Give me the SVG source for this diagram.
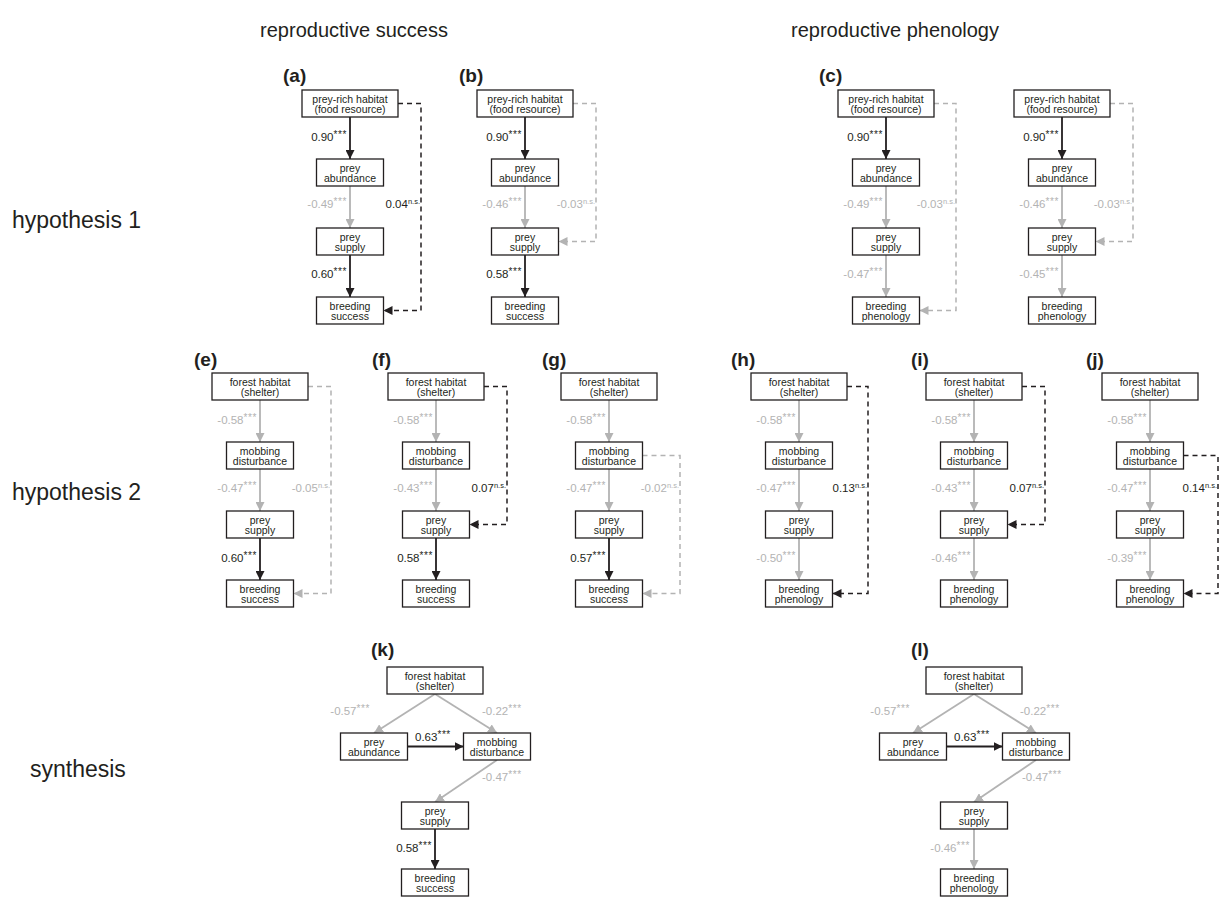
<svg xmlns="http://www.w3.org/2000/svg" width="1226" height="898" viewBox="0 0 1226 898">
<style>
text{font-family:"Liberation Sans",Arial,sans-serif}
.box{fill:#fff;stroke:#231f20;stroke-width:1.3}
.nt{font-size:10.5px;fill:#231f20;text-anchor:middle}
.lb{font-size:11.5px}
.k{fill:#231f20}
.g{fill:#b3b3b3}
.e{text-anchor:end}
.st{font-size:10px;letter-spacing:0.6px}
.ns{font-size:7.5px}
.ab{stroke:#231f20;stroke-width:1.8;fill:none;marker-end:url(#mb)}
.ag{stroke:#b3b3b3;stroke-width:1.8;fill:none;marker-end:url(#mg)}
.db{stroke:#231f20;stroke-width:1.5;stroke-dasharray:5 4;fill:none;marker-end:url(#mb)}
.dg{stroke:#b3b3b3;stroke-width:1.5;stroke-dasharray:5 4;fill:none;marker-end:url(#mg)}
.hd{font-size:20px;fill:#231f20}
.rl{font-size:23px;fill:#231f20}
.pl{font-size:19px;font-weight:bold;fill:#231f20}
</style>
<defs>
<marker id="mb" viewBox="0 0 10 10" refX="10" refY="5" markerWidth="9" markerHeight="9" markerUnits="userSpaceOnUse" orient="auto"><path d="M0,0 L10,5 L0,10 z" fill="#231f20"/></marker>
<marker id="mg" viewBox="0 0 10 10" refX="10" refY="5" markerWidth="9" markerHeight="9" markerUnits="userSpaceOnUse" orient="auto"><path d="M0,0 L10,5 L0,10 z" fill="#b3b3b3"/></marker>
</defs>

<g id="headers">
<text class="hd" x="354" y="37" text-anchor="middle">reproductive success</text>
<text class="hd" x="895" y="37" text-anchor="middle">reproductive phenology</text>
<text class="rl" x="12" y="228">hypothesis 1</text>
<text class="rl" x="12" y="500">hypothesis 2</text>
<text class="rl" x="30" y="777" font-size="22">synthesis</text>
</g>

<g id="panel-labels">
<text class="pl" x="283" y="82">(a)</text>
<text class="pl" x="459" y="82">(b)</text>
<text class="pl" x="819" y="82">(c)</text>
<text class="pl" x="194" y="366">(e)</text>
<text class="pl" x="372" y="366">(f)</text>
<text class="pl" x="542" y="366">(g)</text>
<text class="pl" x="731" y="366">(h)</text>
<text class="pl" x="911" y="366">(i)</text>
<text class="pl" x="1086" y="366">(j)</text>
<text class="pl" x="371" y="656">(k)</text>
<text class="pl" x="911" y="656">(l)</text>
</g>

<g id="connectors">
<path class="ab" d="M350,117 V159"/><path class="ag" d="M350,186 V228"/><path class="ab" d="M350,255 V297"/>
<path class="db" d="M398,103.5 H421 V310.5 H383.5"/>
<path class="ab" d="M525,117 V159"/><path class="ag" d="M525,186 V228"/><path class="ab" d="M525,255 V297"/>
<path class="dg" d="M573,103.5 H596 V241.5 H558.5"/>
<path class="ab" d="M886,117 V159"/><path class="ag" d="M886,186 V228"/><path class="ag" d="M886,255 V297"/>
<path class="dg" d="M934,103.5 H956 V310.5 H919.5"/>
<path class="ab" d="M1062,117 V159"/><path class="ag" d="M1062,186 V228"/><path class="ag" d="M1062,255 V297"/>
<path class="dg" d="M1110,103.5 H1133 V241.5 H1095.5"/>
<path class="ag" d="M260,400 V442"/><path class="ag" d="M260,469 V511"/><path class="ab" d="M260,538 V580"/>
<path class="dg" d="M308,386.5 H331 V593.5 H293.5"/>
<path class="ag" d="M436,400 V442"/><path class="ag" d="M436,469 V511"/><path class="ab" d="M436,538 V580"/>
<path class="db" d="M484,386.5 H507 V524.5 H469.5"/>
<path class="ag" d="M609,400 V442"/><path class="ag" d="M609,469 V511"/><path class="ab" d="M609,538 V580"/>
<path class="dg" d="M642.5,455.5 H680 V593.5 H642.5"/>
<path class="ag" d="M799,400 V442"/><path class="ag" d="M799,469 V511"/><path class="ag" d="M799,538 V580"/>
<path class="db" d="M847,386.5 H868 V593.5 H832.5"/>
<path class="ag" d="M974,400 V442"/><path class="ag" d="M974,469 V511"/><path class="ag" d="M974,538 V580"/>
<path class="db" d="M1022,386.5 H1045 V524.5 H1007.5"/>
<path class="ag" d="M1150,400 V442"/><path class="ag" d="M1150,469 V511"/><path class="ag" d="M1150,538 V580"/>
<path class="db" d="M1183.5,455.5 H1218 V593.5 H1183.5"/>
<path class="ag" d="M435,694 L374,733"/><path class="ag" d="M435,694 L497,733"/>
<path class="ab" d="M407.5,746.5 H463.5"/>
<path class="ag" d="M497,760 L435,802"/>
<path class="ab" d="M435,829 V869"/>
<path class="ag" d="M974,694 L913,733"/><path class="ag" d="M974,694 L1036,733"/>
<path class="ab" d="M946.5,746.5 H1002.5"/>
<path class="ag" d="M1036,760 L974,802"/>
<path class="ag" d="M974,829 V869"/>
</g>

<g id="edge-labels">
<text class="lb k e" x="347" y="141">0.90<tspan class="st" dy="-3">***</tspan></text>
<text class="lb g e" x="347" y="208">-0.49<tspan class="st" dy="-3">***</tspan></text>
<text class="lb k e" x="420" y="208">0.04<tspan class="ns" dy="-4">n.s.</tspan></text>
<text class="lb k e" x="347" y="278">0.60<tspan class="st" dy="-3">***</tspan></text>
<text class="lb k e" x="522" y="141">0.90<tspan class="st" dy="-3">***</tspan></text>
<text class="lb g e" x="522" y="208">-0.46<tspan class="st" dy="-3">***</tspan></text>
<text class="lb g e" x="595" y="208">-0.03<tspan class="ns" dy="-4">n.s.</tspan></text>
<text class="lb k e" x="522" y="278">0.58<tspan class="st" dy="-3">***</tspan></text>
<text class="lb k e" x="883" y="141">0.90<tspan class="st" dy="-3">***</tspan></text>
<text class="lb g e" x="883" y="208">-0.49<tspan class="st" dy="-3">***</tspan></text>
<text class="lb g e" x="955" y="208">-0.03<tspan class="ns" dy="-4">n.s.</tspan></text>
<text class="lb g e" x="883" y="278">-0.47<tspan class="st" dy="-3">***</tspan></text>
<text class="lb k e" x="1059" y="141">0.90<tspan class="st" dy="-3">***</tspan></text>
<text class="lb g e" x="1059" y="208">-0.46<tspan class="st" dy="-3">***</tspan></text>
<text class="lb g e" x="1132" y="208">-0.03<tspan class="ns" dy="-4">n.s.</tspan></text>
<text class="lb g e" x="1059" y="278">-0.45<tspan class="st" dy="-3">***</tspan></text>
<text class="lb g e" x="257" y="424">-0.58<tspan class="st" dy="-3">***</tspan></text>
<text class="lb g e" x="257" y="492">-0.47<tspan class="st" dy="-3">***</tspan></text>
<text class="lb g e" x="330" y="492">-0.05<tspan class="ns" dy="-4">n.s.</tspan></text>
<text class="lb k e" x="257" y="562">0.60<tspan class="st" dy="-3">***</tspan></text>
<text class="lb g e" x="433" y="424">-0.58<tspan class="st" dy="-3">***</tspan></text>
<text class="lb g e" x="433" y="492">-0.43<tspan class="st" dy="-3">***</tspan></text>
<text class="lb k e" x="506" y="492">0.07<tspan class="ns" dy="-4">n.s.</tspan></text>
<text class="lb k e" x="433" y="562">0.58<tspan class="st" dy="-3">***</tspan></text>
<text class="lb g e" x="606" y="424">-0.58<tspan class="st" dy="-3">***</tspan></text>
<text class="lb g e" x="606" y="492">-0.47<tspan class="st" dy="-3">***</tspan></text>
<text class="lb g e" x="679" y="492">-0.02<tspan class="ns" dy="-4">n.s.</tspan></text>
<text class="lb k e" x="606" y="562">0.57<tspan class="st" dy="-3">***</tspan></text>
<text class="lb g e" x="796" y="424">-0.58<tspan class="st" dy="-3">***</tspan></text>
<text class="lb g e" x="796" y="492">-0.47<tspan class="st" dy="-3">***</tspan></text>
<text class="lb k e" x="867" y="492">0.13<tspan class="ns" dy="-4">n.s.</tspan></text>
<text class="lb g e" x="796" y="562">-0.50<tspan class="st" dy="-3">***</tspan></text>
<text class="lb g e" x="971" y="424">-0.58<tspan class="st" dy="-3">***</tspan></text>
<text class="lb g e" x="971" y="492">-0.43<tspan class="st" dy="-3">***</tspan></text>
<text class="lb k e" x="1044" y="492">0.07<tspan class="ns" dy="-4">n.s.</tspan></text>
<text class="lb g e" x="971" y="562">-0.46<tspan class="st" dy="-3">***</tspan></text>
<text class="lb g e" x="1147" y="424">-0.58<tspan class="st" dy="-3">***</tspan></text>
<text class="lb g e" x="1147" y="492">-0.47<tspan class="st" dy="-3">***</tspan></text>
<text class="lb k e" x="1217" y="492">0.14<tspan class="ns" dy="-4">n.s.</tspan></text>
<text class="lb g e" x="1147" y="562">-0.39<tspan class="st" dy="-3">***</tspan></text>
<text class="lb g e" x="370" y="715">-0.57<tspan class="st" dy="-3">***</tspan></text>
<text class="lb g" x="482" y="715">-0.22<tspan class="st" dy="-3">***</tspan></text>
<text class="lb k" x="415" y="741">0.63<tspan class="st" dy="-3">***</tspan></text>
<text class="lb g" x="482" y="781">-0.47<tspan class="st" dy="-3">***</tspan></text>
<text class="lb k e" x="432" y="852">0.58<tspan class="st" dy="-3">***</tspan></text>
<text class="lb g e" x="910" y="715">-0.57<tspan class="st" dy="-3">***</tspan></text>
<text class="lb g" x="1020" y="715">-0.22<tspan class="st" dy="-3">***</tspan></text>
<text class="lb k" x="954" y="741">0.63<tspan class="st" dy="-3">***</tspan></text>
<text class="lb g" x="1022" y="781">-0.47<tspan class="st" dy="-3">***</tspan></text>
<text class="lb g e" x="970" y="852">-0.46<tspan class="st" dy="-3">***</tspan></text>
</g>

<g id="a-habitat"><rect class="box" x="302" y="90" width="96" height="27"/><text class="nt" x="350" y="102.5">prey-rich habitat</text><text class="nt" x="350" y="112.5">(food resource)</text></g>
<g id="a-abundance"><rect class="box" x="316.5" y="159" width="67" height="27"/><text class="nt" x="350" y="171.5">prey</text><text class="nt" x="350" y="181.5">abundance</text></g>
<g id="a-supply"><rect class="box" x="316.5" y="228" width="67" height="27"/><text class="nt" x="350" y="240.5">prey</text><text class="nt" x="350" y="250.5">supply</text></g>
<g id="a-success"><rect class="box" x="316.5" y="297" width="67" height="27"/><text class="nt" x="350" y="309.5">breeding</text><text class="nt" x="350" y="319.5">success</text></g>
<g id="b-habitat"><rect class="box" x="477" y="90" width="96" height="27"/><text class="nt" x="525" y="102.5">prey-rich habitat</text><text class="nt" x="525" y="112.5">(food resource)</text></g>
<g id="b-abundance"><rect class="box" x="491.5" y="159" width="67" height="27"/><text class="nt" x="525" y="171.5">prey</text><text class="nt" x="525" y="181.5">abundance</text></g>
<g id="b-supply"><rect class="box" x="491.5" y="228" width="67" height="27"/><text class="nt" x="525" y="240.5">prey</text><text class="nt" x="525" y="250.5">supply</text></g>
<g id="b-success"><rect class="box" x="491.5" y="297" width="67" height="27"/><text class="nt" x="525" y="309.5">breeding</text><text class="nt" x="525" y="319.5">success</text></g>
<g id="c-habitat"><rect class="box" x="838" y="90" width="96" height="27"/><text class="nt" x="886" y="102.5">prey-rich habitat</text><text class="nt" x="886" y="112.5">(food resource)</text></g>
<g id="c-abundance"><rect class="box" x="852.5" y="159" width="67" height="27"/><text class="nt" x="886" y="171.5">prey</text><text class="nt" x="886" y="181.5">abundance</text></g>
<g id="c-supply"><rect class="box" x="852.5" y="228" width="67" height="27"/><text class="nt" x="886" y="240.5">prey</text><text class="nt" x="886" y="250.5">supply</text></g>
<g id="c-phenology"><rect class="box" x="852.5" y="297" width="67" height="27"/><text class="nt" x="886" y="309.5">breeding</text><text class="nt" x="886" y="319.5">phenology</text></g>
<g id="d-habitat"><rect class="box" x="1014" y="90" width="96" height="27"/><text class="nt" x="1062" y="102.5">prey-rich habitat</text><text class="nt" x="1062" y="112.5">(food resource)</text></g>
<g id="d-abundance"><rect class="box" x="1028.5" y="159" width="67" height="27"/><text class="nt" x="1062" y="171.5">prey</text><text class="nt" x="1062" y="181.5">abundance</text></g>
<g id="d-supply"><rect class="box" x="1028.5" y="228" width="67" height="27"/><text class="nt" x="1062" y="240.5">prey</text><text class="nt" x="1062" y="250.5">supply</text></g>
<g id="d-phenology"><rect class="box" x="1028.5" y="297" width="67" height="27"/><text class="nt" x="1062" y="309.5">breeding</text><text class="nt" x="1062" y="319.5">phenology</text></g>
<g id="e-forest"><rect class="box" x="212" y="373" width="96" height="27"/><text class="nt" x="260" y="385.5">forest habitat</text><text class="nt" x="260" y="395.5">(shelter)</text></g>
<g id="e-mobbing"><rect class="box" x="226.5" y="442" width="67" height="27"/><text class="nt" x="260" y="454.5">mobbing</text><text class="nt" x="260" y="464.5">disturbance</text></g>
<g id="e-supply"><rect class="box" x="226.5" y="511" width="67" height="27"/><text class="nt" x="260" y="523.5">prey</text><text class="nt" x="260" y="533.5">supply</text></g>
<g id="e-success"><rect class="box" x="226.5" y="580" width="67" height="27"/><text class="nt" x="260" y="592.5">breeding</text><text class="nt" x="260" y="602.5">success</text></g>
<g id="f-forest"><rect class="box" x="388" y="373" width="96" height="27"/><text class="nt" x="436" y="385.5">forest habitat</text><text class="nt" x="436" y="395.5">(shelter)</text></g>
<g id="f-mobbing"><rect class="box" x="402.5" y="442" width="67" height="27"/><text class="nt" x="436" y="454.5">mobbing</text><text class="nt" x="436" y="464.5">disturbance</text></g>
<g id="f-supply"><rect class="box" x="402.5" y="511" width="67" height="27"/><text class="nt" x="436" y="523.5">prey</text><text class="nt" x="436" y="533.5">supply</text></g>
<g id="f-success"><rect class="box" x="402.5" y="580" width="67" height="27"/><text class="nt" x="436" y="592.5">breeding</text><text class="nt" x="436" y="602.5">success</text></g>
<g id="g-forest"><rect class="box" x="561" y="373" width="96" height="27"/><text class="nt" x="609" y="385.5">forest habitat</text><text class="nt" x="609" y="395.5">(shelter)</text></g>
<g id="g-mobbing"><rect class="box" x="575.5" y="442" width="67" height="27"/><text class="nt" x="609" y="454.5">mobbing</text><text class="nt" x="609" y="464.5">disturbance</text></g>
<g id="g-supply"><rect class="box" x="575.5" y="511" width="67" height="27"/><text class="nt" x="609" y="523.5">prey</text><text class="nt" x="609" y="533.5">supply</text></g>
<g id="g-success"><rect class="box" x="575.5" y="580" width="67" height="27"/><text class="nt" x="609" y="592.5">breeding</text><text class="nt" x="609" y="602.5">success</text></g>
<g id="h-forest"><rect class="box" x="751" y="373" width="96" height="27"/><text class="nt" x="799" y="385.5">forest habitat</text><text class="nt" x="799" y="395.5">(shelter)</text></g>
<g id="h-mobbing"><rect class="box" x="765.5" y="442" width="67" height="27"/><text class="nt" x="799" y="454.5">mobbing</text><text class="nt" x="799" y="464.5">disturbance</text></g>
<g id="h-supply"><rect class="box" x="765.5" y="511" width="67" height="27"/><text class="nt" x="799" y="523.5">prey</text><text class="nt" x="799" y="533.5">supply</text></g>
<g id="h-phenology"><rect class="box" x="765.5" y="580" width="67" height="27"/><text class="nt" x="799" y="592.5">breeding</text><text class="nt" x="799" y="602.5">phenology</text></g>
<g id="i-forest"><rect class="box" x="926" y="373" width="96" height="27"/><text class="nt" x="974" y="385.5">forest habitat</text><text class="nt" x="974" y="395.5">(shelter)</text></g>
<g id="i-mobbing"><rect class="box" x="940.5" y="442" width="67" height="27"/><text class="nt" x="974" y="454.5">mobbing</text><text class="nt" x="974" y="464.5">disturbance</text></g>
<g id="i-supply"><rect class="box" x="940.5" y="511" width="67" height="27"/><text class="nt" x="974" y="523.5">prey</text><text class="nt" x="974" y="533.5">supply</text></g>
<g id="i-phenology"><rect class="box" x="940.5" y="580" width="67" height="27"/><text class="nt" x="974" y="592.5">breeding</text><text class="nt" x="974" y="602.5">phenology</text></g>
<g id="j-forest"><rect class="box" x="1102" y="373" width="96" height="27"/><text class="nt" x="1150" y="385.5">forest habitat</text><text class="nt" x="1150" y="395.5">(shelter)</text></g>
<g id="j-mobbing"><rect class="box" x="1116.5" y="442" width="67" height="27"/><text class="nt" x="1150" y="454.5">mobbing</text><text class="nt" x="1150" y="464.5">disturbance</text></g>
<g id="j-supply"><rect class="box" x="1116.5" y="511" width="67" height="27"/><text class="nt" x="1150" y="523.5">prey</text><text class="nt" x="1150" y="533.5">supply</text></g>
<g id="j-phenology"><rect class="box" x="1116.5" y="580" width="67" height="27"/><text class="nt" x="1150" y="592.5">breeding</text><text class="nt" x="1150" y="602.5">phenology</text></g>
<g id="k-forest"><rect class="box" x="387" y="667" width="96" height="27"/><text class="nt" x="435" y="679.5">forest habitat</text><text class="nt" x="435" y="689.5">(shelter)</text></g>
<g id="k-abundance"><rect class="box" x="340.5" y="733" width="67" height="27"/><text class="nt" x="374" y="745.5">prey</text><text class="nt" x="374" y="755.5">abundance</text></g>
<g id="k-mobbing"><rect class="box" x="463.5" y="733" width="67" height="27"/><text class="nt" x="497" y="745.5">mobbing</text><text class="nt" x="497" y="755.5">disturbance</text></g>
<g id="k-supply"><rect class="box" x="401.5" y="802" width="67" height="27"/><text class="nt" x="435" y="814.5">prey</text><text class="nt" x="435" y="824.5">supply</text></g>
<g id="k-success"><rect class="box" x="401.5" y="869" width="67" height="27"/><text class="nt" x="435" y="881.5">breeding</text><text class="nt" x="435" y="891.5">success</text></g>
<g id="l-forest"><rect class="box" x="926" y="667" width="96" height="27"/><text class="nt" x="974" y="679.5">forest habitat</text><text class="nt" x="974" y="689.5">(shelter)</text></g>
<g id="l-abundance"><rect class="box" x="879.5" y="733" width="67" height="27"/><text class="nt" x="913" y="745.5">prey</text><text class="nt" x="913" y="755.5">abundance</text></g>
<g id="l-mobbing"><rect class="box" x="1002.5" y="733" width="67" height="27"/><text class="nt" x="1036" y="745.5">mobbing</text><text class="nt" x="1036" y="755.5">disturbance</text></g>
<g id="l-supply"><rect class="box" x="940.5" y="802" width="67" height="27"/><text class="nt" x="974" y="814.5">prey</text><text class="nt" x="974" y="824.5">supply</text></g>
<g id="l-phenology"><rect class="box" x="940.5" y="869" width="67" height="27"/><text class="nt" x="974" y="881.5">breeding</text><text class="nt" x="974" y="891.5">phenology</text></g>
</svg>
